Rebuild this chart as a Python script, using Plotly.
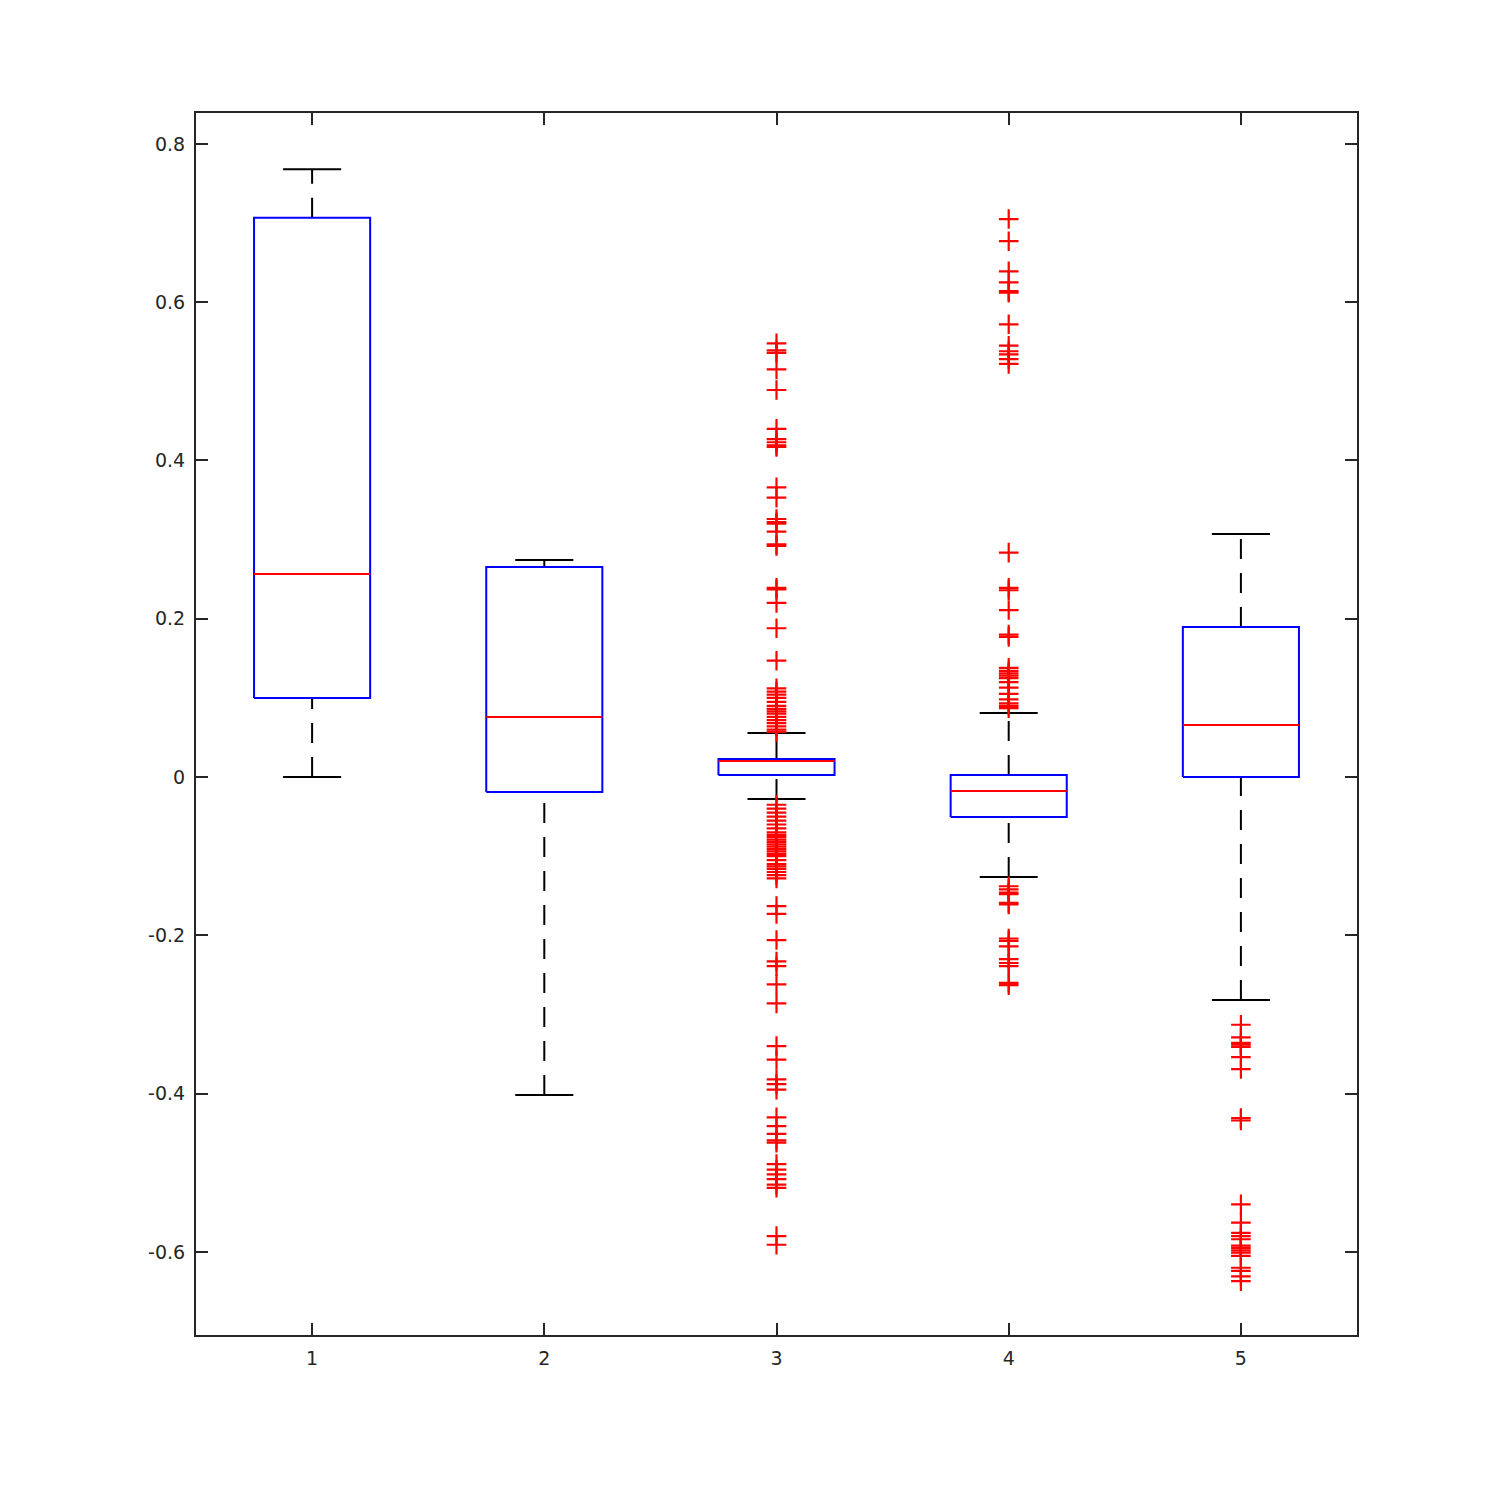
import plotly.graph_objects as go

positions = [1, 2, 3, 4, 5]
q1 = [0.0998, -0.0190, 0.0025, -0.0506, 0.0000]
median = [0.2566, 0.0758, 0.0202, -0.0177, 0.0657]
q3 = [0.7065, 0.2654, 0.0227, 0.0025, 0.1896]
lower_whisker = [0.0000, -0.4019, -0.0278, -0.1264, -0.2818]
upper_whisker = [0.7680, 0.2743, 0.0556, 0.0809, 0.3071]

outliers_1 = []
outliers_2 = []
outliers_3 = [0.548, 0.539, 0.536, 0.515, 0.489, 0.440, 0.427, 0.423, 0.419, 0.417,
              0.366, 0.353, 0.326, 0.322, 0.320, 0.310, 0.294, 0.292, 0.239, 0.237,
              0.220, 0.188, 0.147, 0.112, 0.108, 0.104, 0.100, 0.095, 0.090, 0.086,
              0.083, 0.080, 0.076, 0.072, 0.068, 0.064, 0.060, 0.057,
              -0.035, -0.040, -0.045, -0.050, -0.055, -0.060, -0.065, -0.070, -0.073,
              -0.076, -0.079, -0.082, -0.085, -0.088, -0.091, -0.094, -0.097, -0.100,
              -0.105, -0.110, -0.113, -0.116, -0.120, -0.124, -0.128,
              -0.163, -0.173, -0.206, -0.233, -0.239, -0.262, -0.286, -0.340, -0.357,
              -0.382, -0.388, -0.395, -0.430, -0.441, -0.451, -0.459, -0.462,
              -0.489, -0.496, -0.502, -0.508, -0.515, -0.519, -0.580, -0.591]
outliers_4 = [0.705, 0.677, 0.639, 0.625, 0.614, 0.612, 0.572, 0.545, 0.538, 0.534,
              0.528, 0.522, 0.2835, 0.239, 0.236, 0.211, 0.180, 0.177,
              0.138, 0.134, 0.131, 0.128, 0.125, 0.120, 0.113, 0.105, 0.098, 0.093,
              0.090, 0.087,
              -0.138, -0.142, -0.146, -0.148, -0.159, -0.161, -0.204, -0.207, -0.214,
              -0.230, -0.235, -0.239, -0.260, -0.263]
outliers_5 = [-0.313, -0.329, -0.336, -0.338, -0.341, -0.354, -0.369, -0.431, -0.434,
              -0.540, -0.563, -0.576, -0.580, -0.584, -0.592, -0.595, -0.598, -0.601,
              -0.605, -0.620, -0.624, -0.631, -0.637]
outliers = [outliers_1, outliers_2, outliers_3, outliers_4, outliers_5]

y_ticks = [-0.6, -0.4, -0.2, 0, 0.2, 0.4, 0.6, 0.8]
y_tick_labels = ["-0.6", "-0.4", "-0.2", "0", "0.2", "0.4", "0.6", "0.8"]
x_tick_labels = ["1", "2", "3", "4", "5"]

half_box = 0.25
half_cap = 0.125

bx, by, mx, my, wx, wy, cx, cy, ox, oy = [], [], [], [], [], [], [], [], [], []
for i, p in enumerate(positions):
    bx += [p - half_box, p + half_box, p + half_box, p - half_box, p - half_box, None]
    by += [q1[i], q1[i], q3[i], q3[i], q1[i], None]
    mx += [p - half_box, p + half_box, None]
    my += [median[i], median[i], None]
    wx += [p, p, None, p, p, None]
    wy += [q3[i], upper_whisker[i], None, lower_whisker[i], q1[i], None]
    cx += [p - half_cap, p + half_cap, None, p - half_cap, p + half_cap, None]
    cy += [upper_whisker[i], upper_whisker[i], None, lower_whisker[i], lower_whisker[i], None]
    ox += [p] * len(outliers[i])
    oy += outliers[i]

fig = go.Figure()
fig.add_trace(go.Scatter(x=wx, y=wy, mode="lines",
                         line=dict(color="black", width=2, dash="20px,14px"), hoverinfo="skip"))
fig.add_trace(go.Scatter(x=cx, y=cy, mode="lines",
                         line=dict(color="black", width=2), hoverinfo="skip"))
fig.add_trace(go.Scatter(x=bx, y=by, mode="lines",
                         line=dict(color="#0000ff", width=2), hoverinfo="skip"))
fig.add_trace(go.Scatter(x=mx, y=my, mode="lines",
                         line=dict(color="#ff0000", width=2), hoverinfo="skip"))
fig.add_trace(go.Scatter(x=ox, y=oy, mode="markers",
                         marker=dict(symbol="cross-thin-open", size=14, color="#ff0000",
                                     line=dict(color="#ff0000", width=2.2)),
                         hoverinfo="skip"))

axis_common = dict(showgrid=False, zeroline=False, showline=True, mirror="ticks",
                   linecolor="#262626", linewidth=2, ticks="inside", ticklen=12,
                   tickwidth=1.5, tickcolor="#262626", ticklabelstandoff=5,
                   tickfont=dict(family="DejaVu Sans", size=19, color="#262626"))

fig.update_layout(
    width=1500, height=1500,
    margin=dict(l=188, r=151, t=105, b=173),
    paper_bgcolor="white", plot_bgcolor="white",
    showlegend=False,
    xaxis=dict(range=[0.5, 5.5], tickvals=positions, ticktext=x_tick_labels, **axis_common),
    yaxis=dict(range=[-0.705, 0.839], tickvals=y_ticks, ticktext=y_tick_labels, **axis_common),
)

fig.write_html("out.html")
